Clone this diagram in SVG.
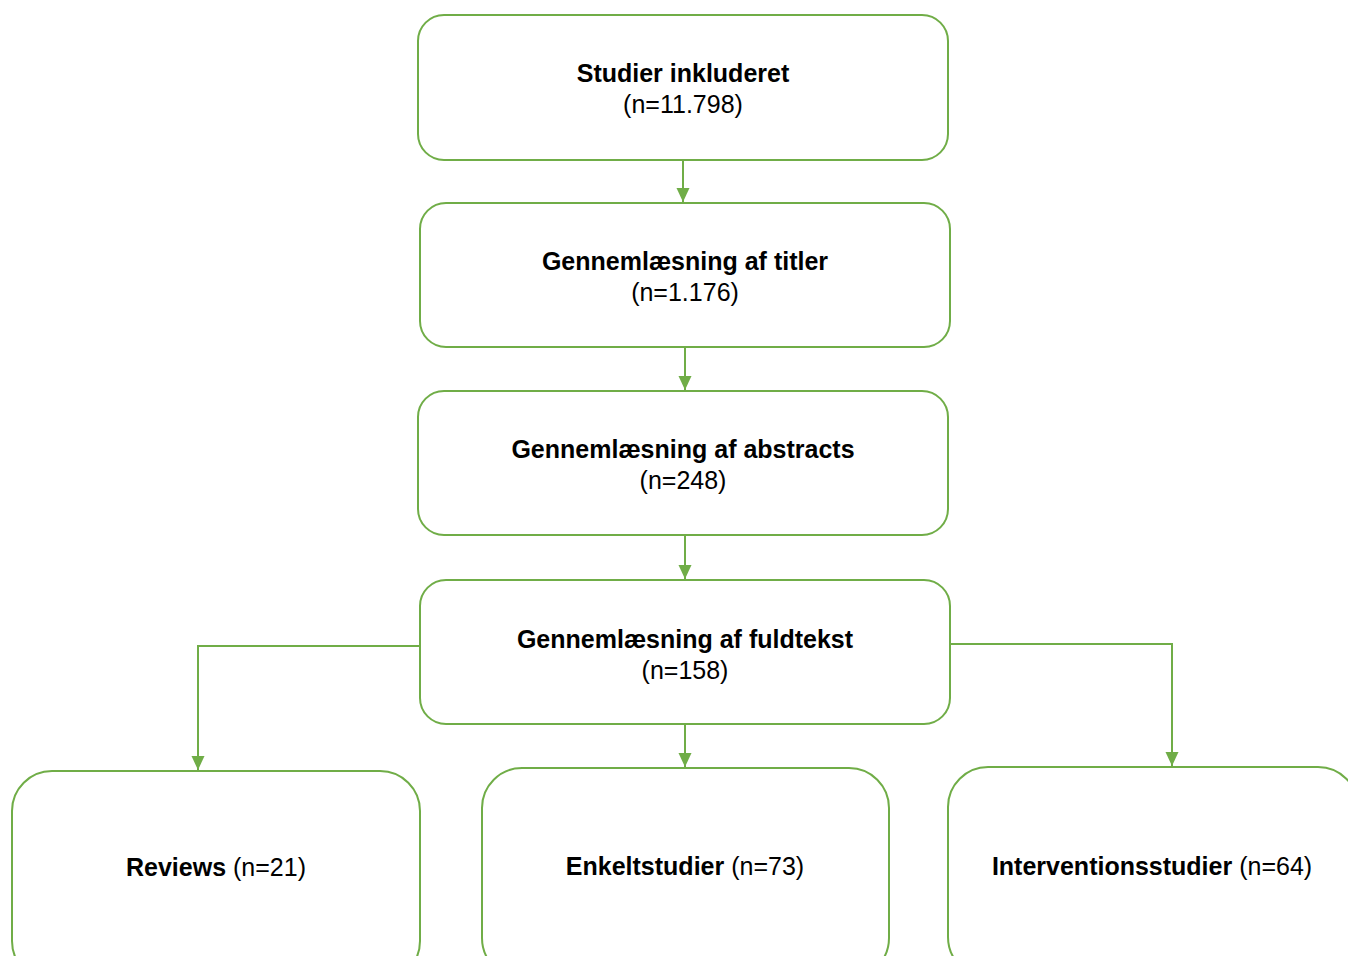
<svg xmlns="http://www.w3.org/2000/svg" width="1348" height="956" viewBox="0 0 1348 956">
<defs>
<marker id="arr" markerUnits="userSpaceOnUse" markerWidth="16" markerHeight="16" viewBox="0 0 16 16" refX="15" refY="8" orient="auto">
<path d="M1,1.5 L15,8 L1,14.5 Z" fill="#70AD47"/>
</marker>
</defs>
<style>
.box{fill:#fff;stroke:#70AD47;stroke-width:2}
.c{fill:none;stroke:#70AD47;stroke-width:2}
text{font-family:"Liberation Sans",Arial,sans-serif;font-size:25px;fill:#000;text-anchor:middle}
.b{font-weight:bold}
</style>
<rect width="1348" height="956" fill="#fff"/>
<g id="connectors">
<path class="c" d="M683,160 V202" marker-end="url(#arr)"/>
<path class="c" d="M685,347 V390" marker-end="url(#arr)"/>
<path class="c" d="M685,535 V579" marker-end="url(#arr)"/>
<path class="c" d="M685,724 V767" marker-end="url(#arr)"/>
<path class="c" d="M420,646 H198 V770" marker-end="url(#arr)"/>
<path class="c" d="M950,644 H1172 V766" marker-end="url(#arr)"/>
</g>
<g id="n1">
<rect class="box" x="418" y="15" width="530" height="145" rx="26"/>
<text x="683" y="82" class="b">Studier inkluderet</text>
<text x="683" y="113">(n=11.798)</text>
</g>
<g id="n2">
<rect class="box" x="420" y="203" width="530" height="144" rx="26"/>
<text x="685" y="270" class="b">Gennemlæsning af titler</text>
<text x="685" y="301">(n=1.176)</text>
</g>
<g id="n3">
<rect class="box" x="418" y="391" width="530" height="144" rx="26"/>
<text x="683" y="458" class="b">Gennemlæsning af abstracts</text>
<text x="683" y="489">(n=248)</text>
</g>
<g id="n4">
<rect class="box" x="420" y="580" width="530" height="144" rx="26"/>
<text x="685" y="648" class="b">Gennemlæsning af fuldtekst</text>
<text x="685" y="679">(n=158)</text>
</g>
<g id="n5">
<rect class="box" x="12" y="771" width="408" height="210" rx="40"/>
<text x="216" y="876"><tspan class="b">Reviews</tspan> (n=21)</text>
</g>
<g id="n6">
<rect class="box" x="482" y="768" width="407" height="210" rx="40"/>
<text x="685" y="875"><tspan class="b">Enkeltstudier</tspan> (n=73)</text>
</g>
<g id="n7">
<rect class="box" x="948" y="767" width="410" height="210" rx="40"/>
<text x="1152" y="875"><tspan class="b">Interventionsstudier</tspan> (n=64)</text>
</g>
</svg>
